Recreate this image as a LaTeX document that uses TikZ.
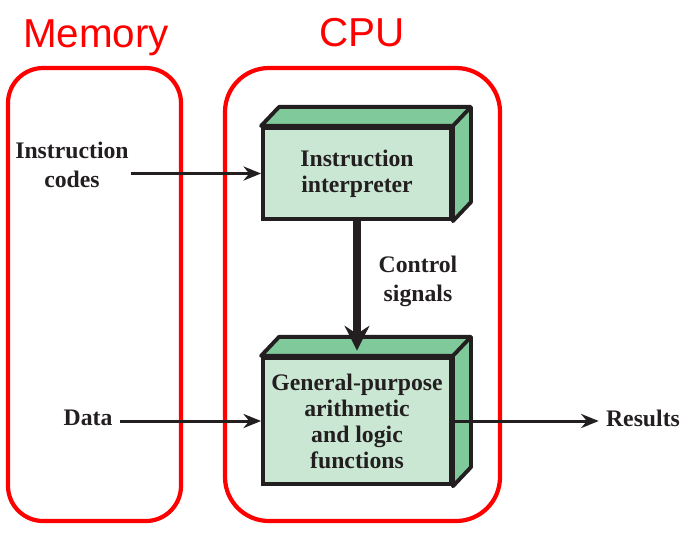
\documentclass[tikz,border=0pt]{standalone}
\usepackage{fontspec}
\setmainfont{Liberation Serif}
\newfontfamily\redfont{Liberation Sans}
\usetikzlibrary{arrows.meta}
\definecolor{faceGreen}{HTML}{C9E7D3}
\definecolor{sideGreen}{HTML}{80C99A}
\definecolor{inkBlack}{HTML}{231F20}
\tikzset{
  unit/.style={draw=inkBlack,line width=2.2pt,fill=faceGreen,inner sep=0pt,
    align=center,font=\bfseries\fontsize{13.5}{14.8}\selectfont,text=inkBlack},
  lbl/.style={align=center,inner sep=1pt,font=\bfseries\fontsize{13.5}{16.5}\selectfont,text=inkBlack},
  region/.style={draw=red,line width=2.4pt},
  title/.style={text=red,font=\redfont\fontsize{23}{23}\selectfont},
  flow/.style={draw=inkBlack,line width=1.7pt,-{Stealth[length=10pt,width=8pt]}},
  bigflow/.style={draw=inkBlack,line width=4.5pt,-{Stealth[length=14pt,width=14pt]}}
}
\begin{document}
\begin{tikzpicture}[x=0.02cm,y=-0.02cm]
    \useasboundingbox (0,0) rectangle (685,532);

    % memory and cpu areas
    \draw[region,rounded corners=20pt] (8,68) rectangle (181,521);
    \node[title] at (96,38) {Memory};
    \draw[region,rounded corners=25pt] (225,68) rectangle (500,521);
    \node[title] at (362,33) {CPU};

    % the two units
    \node[unit,minimum width=107pt,minimum height=52pt] (ii) at (357,173.5)
      {Instruction\\interpreter};
    \node[unit,minimum width=107pt,minimum height=72pt] (alu) at (357,421)
      {General-purpose\\arithmetic\\and logic\\functions};
    \foreach \n in {ii,alu}{
      \draw[draw=inkBlack,line width=2.2pt,fill=sideGreen,line join=round]
        (\n.north west) -- ++(18,-19) -- ([shift={(18,-19)}]\n.north east)
        -- ([shift={(18,-19)}]\n.south east) -- (\n.south east) -- (\n.north east) -- cycle;
      \draw[draw=inkBlack,line width=2.2pt] (\n.north east) -- ++(18,-19);
    }

    % labels
    \node[lbl] (codes) at (72,165) {Instruction\\codes};
    \node[lbl,inner sep=4pt] (data) at (88,418) {Data};
    \node[lbl] (ctrl) at (418,281) {Control\\signals};
    \node[lbl,inner sep=4pt] (res) at (643,418) {Results};

    % connectors
    \draw[flow] (codes.east |- ii.west) -- (ii.west);
    \draw[flow] (data.east |- alu.west) -- (alu.west);
    \draw[flow] (alu.east) -- (alu.east -| res.west);
    \draw[bigflow,shorten >=3pt] (ii.south) -- (alu.north);
\end{tikzpicture}
\end{document}
